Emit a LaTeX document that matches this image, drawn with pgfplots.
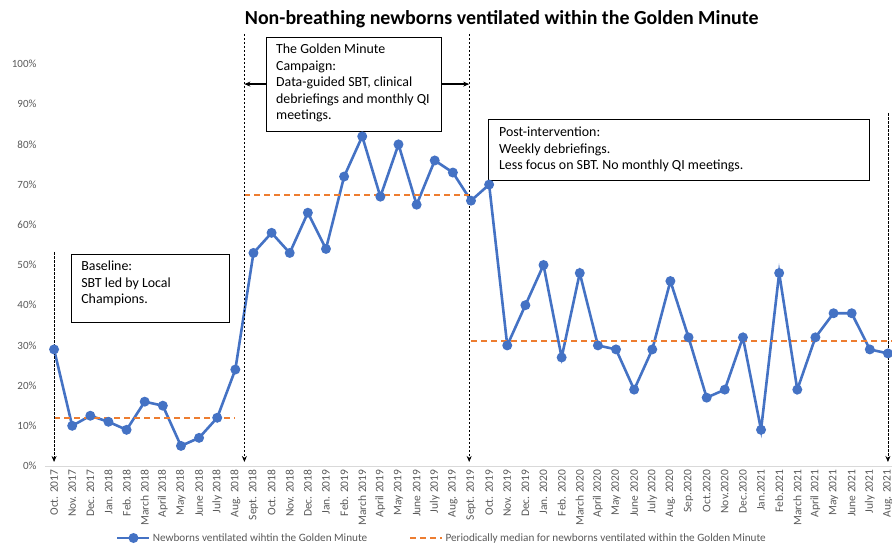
\documentclass[border=0pt]{standalone}
\usepackage{pgfplots}
\pgfplotsset{compat=1.18}
\usepackage{pgfplotstable}
\usepackage{fontspec}
\setmainfont{Carlito}
\usetikzlibrary{arrows.meta}

\definecolor{xlblue}{HTML}{4472C4}
\definecolor{xlorange}{HTML}{ED7D31}
\definecolor{xlgray}{HTML}{595959}
\definecolor{xlaxis}{HTML}{D9D9D9}

% month index, % ventilated within the golden minute
\pgfplotstableread{
idx val
0 29
1 10
2 12.5
3 11
4 9
5 16
6 15
7 5
8 7
9 12
10 24
11 53
12 58
13 53
14 63
15 54
16 72
17 82
18 67
19 80
20 65
21 76
22 73
23 66
24 70
25 30
26 40
27 50
28 27
29 48
30 30
31 29
32 19
33 29
34 46
35 32
36 17
37 19
38 32
39 9
40 48
41 19
42 32
43 38
44 38
45 29
46 28
}\gmdata

\begin{document}
\begin{tikzpicture}[x=1pt,y=1pt]
\begin{axis}[
    at={(45pt,78pt)}, anchor=south west,
    scale only axis, width=852pt, height=402pt,
    xmin=-0.5, xmax=46.5, ymin=0, ymax=100,
    clip=false,
    axis lines*=left,
    y axis line style={draw=none},
    x axis line style={draw=xlaxis, line width=0.8pt, -},
    major tick length=0pt,
    xtick={0,...,46},
    xticklabels={Oct. 2017,Nov. 2017,Dec. 2017,Jan. 2018,Feb. 2018,March 2018,April 2018,May 2018,June 2018,July 2018,Aug. 2018,Sept. 2018,Oct. 2018,Nov. 2018,Dec. 2018,Jan. 2019,Feb. 2019,March 2019,April 2019,May 2019,June 2019,July 2019,Aug. 2019,Sept. 2019,Oct. 2019,Nov. 2019,Dec. 2019,Jan. 2020,Feb. 2020,March 2020,April 2020,May 2020,June 2020,July 2020,Aug. 2020,Sep.2020,Oct.2020,Nov.2020,Dec.2020,Jan.2021,Feb.2021,March 2021,April 2021,May 2021,June 2021,July 2021,Aug. 2021},
    x tick label style={rotate=90, anchor=east, font=\fontsize{11.5}{13}\selectfont, text=xlgray},
    ytick={0,10,...,100},
    yticklabel={\pgfmathprintnumber{\tick}\%},
    y tick label style={font=\fontsize{11}{13}\selectfont, text=xlgray, xshift=-5pt},
    /pgf/number format/assume math mode=true,
    title={Non-breathing newborns ventilated within the Golden Minute},
    title style={at={(0.536,1)}, anchor=center, yshift=39pt, font=\fontsize{19.9}{24}\selectfont\bfseries},
    legend columns=2,
    legend image code/.code={\draw[mark repeat=2,mark phase=2,#1] plot coordinates {(0pt,0pt)(16pt,0pt)(32pt,0pt)};},
    legend style={at={(0.466,0)}, anchor=center, yshift=-72pt, draw=none, fill=none,
        font=\fontsize{11.2}{13}\selectfont, text=xlgray,
        /tikz/every even column/.append style={column sep=40pt}},
]
\addplot[color=xlblue, line width=2.6pt, mark=*, mark size=3.6pt] table[x=idx, y=val] {\gmdata};
\addlegendentry{Newborns ventilated wihtin the Golden Minute}

\addplot[color=xlorange, line width=2.2pt, dash pattern=on 6pt off 4pt] coordinates {(0,12)(10,12)};
\addlegendentry{Periodically median for newborns ventilated within the Golden Minute}
\addplot[color=xlorange, line width=2.2pt, dash pattern=on 6pt off 4pt, forget plot] coordinates {(10.5,67.5)(23,67.5)};
\addplot[color=xlorange, line width=2.2pt, dash pattern=on 6pt off 4pt, forget plot] coordinates {(23,31)(46.5,31)};

% phase separators
\draw[dash pattern=on 2.5pt off 1.5pt, line width=0.8pt, -{Stealth[length=6pt,width=5pt]}] (axis cs:0,53.2) -- (axis cs:0,1);
\draw[dash pattern=on 2.5pt off 1.5pt, line width=0.8pt, -{Stealth[length=6pt,width=5pt]}] (axis cs:10.5,107.5) -- (axis cs:10.5,1);
\draw[dash pattern=on 2.5pt off 1.5pt, line width=0.8pt, -{Stealth[length=6pt,width=5pt]}] (axis cs:22.9,107.5) -- (axis cs:22.9,1);
\draw[dash pattern=on 2.5pt off 1.5pt, line width=0.8pt, -{Stealth[length=6pt,width=5pt]}] (axis cs:46,87.8) -- (axis cs:46,1);

% annotation boxes
\draw[line width=0.9pt, fill=white] (axis cs:0.94,52.7) rectangle (axis cs:9.65,35.8);
\node[anchor=north west, align=left, inner sep=0pt, font=\fontsize{13.9}{16.5}\selectfont] at ([xshift=10pt,yshift=-7pt]axis cs:0.94,52.7)
    {Baseline:\\SBT led by Local\\Champions.};

\draw[line width=0.9pt, fill=white] (axis cs:11.69,106.7) rectangle (axis cs:21.35,83.1);
\node[anchor=north west, align=left, inner sep=0pt, font=\fontsize{13.9}{16.5}\selectfont] at ([xshift=10pt,yshift=-7pt]axis cs:11.69,106.7)
    {The Golden Minute\\Campaign:\\Data-guided SBT, clinical\\debriefings and monthly QI\\meetings.};
\draw[line width=1.2pt, -{Stealth[length=6pt,width=5pt]}] (axis cs:11.69,95) -- (axis cs:10.5,95);
\draw[line width=1.2pt, -{Stealth[length=6pt,width=5pt]}] (axis cs:21.35,95) -- (axis cs:22.9,95);

\draw[line width=0.9pt, fill=white] (axis cs:23.99,86.1) rectangle (axis cs:45,71.1);
\node[anchor=north west, align=left, inner sep=0pt, font=\fontsize{13.9}{16.5}\selectfont] at ([xshift=10pt,yshift=-7pt]axis cs:23.99,86.1)
    {Post-intervention:\\Weekly debriefings.\\Less focus on SBT. No monthly QI meetings.};
\end{axis}
\pgfresetboundingbox
\useasboundingbox (0,0) rectangle (892,544);
\end{tikzpicture}
\end{document}
